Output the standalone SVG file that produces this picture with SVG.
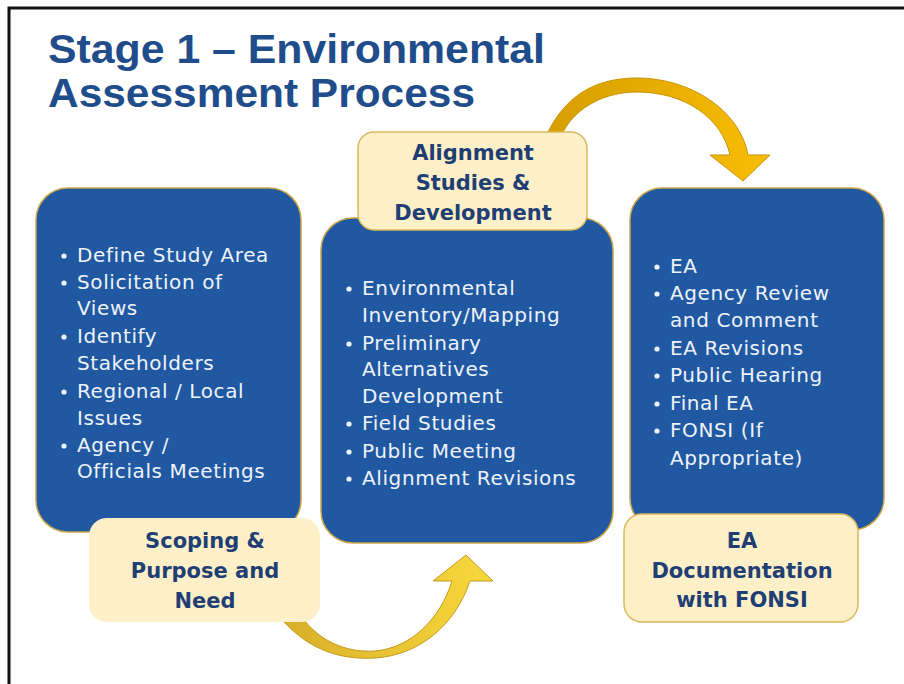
<svg xmlns="http://www.w3.org/2000/svg" width="904" height="684" viewBox="0 0 904 684">
<defs>
<style>
.title{font-family:"Liberation Sans",Arial,sans-serif;font-weight:bold;font-size:41px;fill:#1f4c8b}
.blue{fill:#2158a2;stroke:#c9a54a;stroke-width:1.5}
.cream{fill:#fdf0c9;stroke:#d9b85c;stroke-width:1.5}
.body{font-family:"DejaVu Sans","Liberation Sans",sans-serif;font-size:20px;letter-spacing:0.6px;fill:#eef3fa}
.lab{font-family:"DejaVu Sans","Liberation Sans",sans-serif;font-weight:bold;font-size:21px;fill:#1f3f74;text-anchor:middle}
.dot{fill:#eef3fa}
</style>
<linearGradient id="gTop" x1="0" y1="0" x2="1" y2="0">
<stop offset="0" stop-color="#d69e00"/>
<stop offset="1" stop-color="#f7bd05"/>
</linearGradient>
<linearGradient id="gBot" x1="0" y1="0" x2="1" y2="0">
<stop offset="0" stop-color="#d8af2a"/>
<stop offset="1" stop-color="#f8d93c"/>
</linearGradient>
</defs>
<rect x="0" y="0" width="904" height="684" fill="#ffffff"/>
<path d="M9,684 V8 H904" fill="none" stroke="#111" stroke-width="3"/>
<g id="title">
<text class="title" x="48" y="63" textLength="497" lengthAdjust="spacingAndGlyphs">Stage 1 – Environmental</text>
<text class="title" x="48" y="107" textLength="427" lengthAdjust="spacingAndGlyphs">Assessment Process</text>
</g>
<g id="connectors">
<path d="M548,132 C570,88 605,78 637,78 C690,78 740,110 748,155 L770,155 L743,181 L710,155 L730,155 C722,118 685,92 637,92 C606,92 577,106 563,132 Z" fill="url(#gTop)" stroke="#c89400" stroke-width="1"/>
<path d="M283,621 C310,650 340,660 375,658 C420,655 455,625 470,581 L493,581 L466,555 L433,581 L452,581 C440,620 410,648 375,651 C345,653 320,640 305,621 Z" fill="url(#gBot)" stroke="#c49a1c" stroke-width="1"/>
</g>
<g id="node-scoping">
<rect class="blue" x="36" y="188" width="265" height="344" rx="32"/>
<circle class="dot" cx="64" cy="256" r="2.6"/>
<circle class="dot" cx="64" cy="283" r="2.6"/>
<circle class="dot" cx="64" cy="337" r="2.6"/>
<circle class="dot" cx="64" cy="392" r="2.6"/>
<circle class="dot" cx="64" cy="446" r="2.6"/>
<text class="body" x="77" y="262">Define Study Area</text>
<text class="body" x="77" y="289">Solicitation of</text>
<text class="body" x="77" y="315">Views</text>
<text class="body" x="77" y="343">Identify</text>
<text class="body" x="77" y="370">Stakeholders</text>
<text class="body" x="77" y="398">Regional / Local</text>
<text class="body" x="77" y="425">Issues</text>
<text class="body" x="77" y="452">Agency /</text>
<text class="body" x="77" y="478">Officials Meetings</text>
<rect x="89" y="518" width="231" height="104" rx="18" fill="#fdf0c9"/>
<text class="lab" x="205" y="548">Scoping &amp;</text>
<text class="lab" x="205" y="578">Purpose and</text>
<text class="lab" x="205" y="608">Need</text>
</g>
<g id="node-alignment">
<rect class="blue" x="321" y="218" width="292" height="325" rx="32"/>
<circle class="dot" cx="349" cy="289" r="2.6"/>
<circle class="dot" cx="349" cy="344" r="2.6"/>
<circle class="dot" cx="349" cy="424" r="2.6"/>
<circle class="dot" cx="349" cy="452" r="2.6"/>
<circle class="dot" cx="349" cy="479" r="2.6"/>
<text class="body" x="362" y="295">Environmental</text>
<text class="body" x="362" y="322">Inventory/Mapping</text>
<text class="body" x="362" y="350">Preliminary</text>
<text class="body" x="362" y="376">Alternatives</text>
<text class="body" x="362" y="403">Development</text>
<text class="body" x="362" y="430">Field Studies</text>
<text class="body" x="362" y="458">Public Meeting</text>
<text class="body" x="362" y="485">Alignment Revisions</text>
<rect class="cream" x="358" y="132" width="229" height="98" rx="16"/>
<text class="lab" x="473" y="160">Alignment</text>
<text class="lab" x="473" y="190">Studies &amp;</text>
<text class="lab" x="473" y="220">Development</text>
</g>
<g id="node-ea">
<rect class="blue" x="630" y="188" width="254" height="342" rx="32"/>
<circle class="dot" cx="657" cy="267" r="2.6"/>
<circle class="dot" cx="657" cy="294" r="2.6"/>
<circle class="dot" cx="657" cy="349" r="2.6"/>
<circle class="dot" cx="657" cy="376" r="2.6"/>
<circle class="dot" cx="657" cy="404" r="2.6"/>
<circle class="dot" cx="657" cy="431" r="2.6"/>
<text class="body" x="670" y="273">EA</text>
<text class="body" x="670" y="300">Agency Review</text>
<text class="body" x="670" y="327">and Comment</text>
<text class="body" x="670" y="355">EA Revisions</text>
<text class="body" x="670" y="382">Public Hearing</text>
<text class="body" x="670" y="410">Final EA</text>
<text class="body" x="670" y="437">FONSI (If</text>
<text class="body" x="670" y="465">Appropriate)</text>
<rect class="cream" x="624" y="514" width="234" height="108" rx="18"/>
<text class="lab" x="742" y="548">EA</text>
<text class="lab" x="742" y="578">Documentation</text>
<text class="lab" x="742" y="607">with FONSI</text>
</g>
</svg>
